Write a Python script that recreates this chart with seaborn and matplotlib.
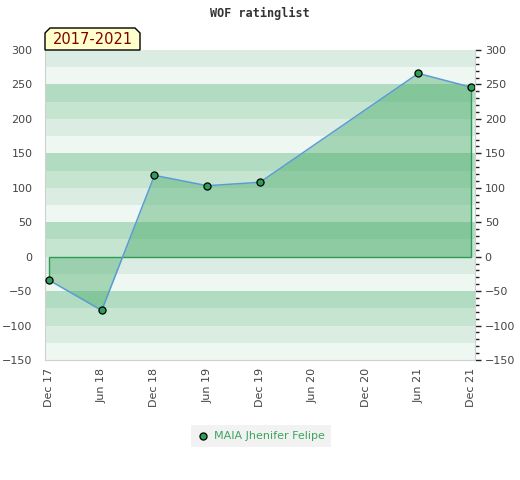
import numpy as np
import pandas as pd
import seaborn as sns
import matplotlib
matplotlib.use("Agg")
import matplotlib.pyplot as plt
from matplotlib.patches import Polygon
from matplotlib.ticker import MultipleLocator

# data
dates = ["2017-12", "2018-06", "2018-12", "2019-06", "2019-12", "2021-06", "2021-12"]
rating = [-34, -78, 118, 103, 108, 266, 246]
tick_labels = ["Dec 17", "Jun 18", "Dec 18", "Jun 19", "Dec 19", "Jun 20", "Dec 20", "Jun 21", "Dec 21"]
player = "MAIA Jhenifer Felipe"
badge = "2017-2021"

sns.set_style("white")
plt.rcParams['font.family'] = ['DejaVu Sans']

d = pd.to_datetime(dates)
months = (d.year - 2017) * 12 + d.month - 12
df = pd.DataFrame({"month": months, "rating": rating})

fig = plt.figure(figsize=(5.2, 4.8), dpi=100)
W, H = 520, 480
ax = fig.add_axes([45 / W, 1 - 360 / H, 430 / W, 310 / H])

# striped background, 25-unit bands
band_cols = ["#eef7f1", "#dbede2", "#c6e5d1", "#b2dcc2"]
for i, lo in enumerate(range(-150, 300, 25)):
    ax.axhspan(lo, lo + 25, color=band_cols[i % 4], lw=0, zorder=0)

ax.fill_between(df["month"], 0, df["rating"], color="#3aa65e", alpha=0.4,
                lw=0, zorder=1)
# outline of the area along zero and the end verticals
m0, m1 = df["month"].iloc[0], df["month"].iloc[-1]
ax.plot([m0, m0, m1, m1], [df["rating"].iloc[0], 0, 0, df["rating"].iloc[-1]],
        color="#2e9a55", lw=1, zorder=2)
sns.lineplot(data=df, x="month", y="rating", ax=ax, color="#5b9bd5", lw=1.1,
             zorder=3, legend=False)
sns.scatterplot(data=df, x="month", y="rating", ax=ax, color="#2e9e5b",
                edgecolor="black", linewidth=0.9, s=26, zorder=4, label=player)

ax.set_xlim(-0.45, 48.45)
ax.set_ylim(-150, 300)
ax.set_xticks(range(0, 49, 6))
ax.set_xticklabels(tick_labels, rotation=90, fontsize=8, color="#444444")
ax.set_yticks(range(-150, 301, 50))
ax.tick_params(axis="y", length=0, labelsize=8, labelcolor="#444444", pad=9)
ax.tick_params(axis="x", length=0, pad=6)
ax.set_xlabel("")
ax.set_ylabel("")
for s in ["top", "right"]:
    ax.spines[s].set_visible(False)
for s in ["left", "bottom"]:
    ax.spines[s].set_color("#d0d0d0")

ax2 = ax.twinx()
ax2.set_ylim(-150, 300)
ax2.set_yticks(range(-150, 301, 50))
ax2.yaxis.set_minor_locator(MultipleLocator(10))
ax2.tick_params(axis="y", which="major", length=4, width=1, labelsize=8,
                labelcolor="#444444", color="#222222", pad=3)
ax2.tick_params(axis="y", which="minor", length=3, width=1, color="#222222")
for s in ["top", "left", "bottom"]:
    ax2.spines[s].set_visible(False)
ax2.spines["right"].set_color("#d0d0d0")

fig.text(0.5, 1 - 13 / H, "WOF ratinglist", ha="center", va="center",
         family="DejaVu Sans Mono", weight="bold", fontsize=8.5, color="#333333")

pts = [(45, 50), (45, 33), (50, 28), (135, 28), (140, 33), (140, 50)]
poly = Polygon([(x / W, 1 - y / H) for x, y in pts], closed=True,
               transform=fig.transFigure, facecolor="#ffffcc", edgecolor="black",
               lw=1, zorder=5)
fig.patches.append(poly)
fig.text(92.5 / W, 1 - 40 / H, badge, ha="center", va="center", fontsize=10.5,
         color="#800000", zorder=6)

leg = ax.legend(loc="center", bbox_to_anchor=(261 / W, 1 - 436 / H),
                bbox_transform=fig.transFigure, frameon=True, fontsize=8,
                handletextpad=0.4, borderpad=0.5, handlelength=1.2)
leg.get_frame().set_facecolor("#efefef")
leg.get_frame().set_edgecolor("none")
leg.get_frame().set_boxstyle("square", pad=0)
for t in leg.get_texts():
    t.set_color("#3aa65e")

fig.savefig("out.png", dpi=100)
